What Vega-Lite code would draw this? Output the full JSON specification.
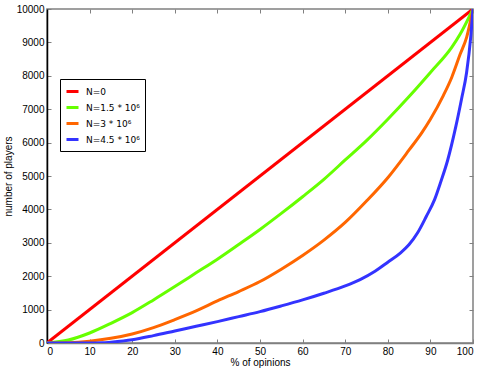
{
  "$schema": "https://vega.github.io/schema/vega-lite/v6.json",
  "width": 426,
  "height": 334,
  "autosize": {"type": "none"},
  "padding": {"left": 47, "top": 9, "right": 12, "bottom": 29},
  "background": "white",
  "config": {
    "font": "Liberation Sans",
    "view": {"stroke": "#808080", "strokeWidth": 1.5},
    "axis": {"grid": false, "labelFontSize": 10, "titleFontSize": 10, "titleFontWeight": "normal", "labelColor": "#000", "titleColor": "#000", "tickColor": "#808080", "tickSize": -4, "tickWidth": 1, "labelPadding": 7}
  },
  "data": {
    "values": [
      {"s": "N=0", "x": 0, "y": 0},
      {"s": "N=0", "x": 100, "y": 10000},
      {"s": "N=1.5 * 10⁶", "x": 0, "y": 0},
      {"s": "N=1.5 * 10⁶", "x": 5, "y": 90},
      {"s": "N=1.5 * 10⁶", "x": 10, "y": 300},
      {"s": "N=1.5 * 10⁶", "x": 15, "y": 590},
      {"s": "N=1.5 * 10⁶", "x": 20, "y": 910},
      {"s": "N=1.5 * 10⁶", "x": 25, "y": 1290},
      {"s": "N=1.5 * 10⁶", "x": 30, "y": 1690},
      {"s": "N=1.5 * 10⁶", "x": 35, "y": 2100},
      {"s": "N=1.5 * 10⁶", "x": 40, "y": 2510},
      {"s": "N=1.5 * 10⁶", "x": 45, "y": 2950},
      {"s": "N=1.5 * 10⁶", "x": 50, "y": 3400},
      {"s": "N=1.5 * 10⁶", "x": 55, "y": 3880},
      {"s": "N=1.5 * 10⁶", "x": 60, "y": 4380},
      {"s": "N=1.5 * 10⁶", "x": 65, "y": 4900},
      {"s": "N=1.5 * 10⁶", "x": 70, "y": 5480},
      {"s": "N=1.5 * 10⁶", "x": 75, "y": 6060},
      {"s": "N=1.5 * 10⁶", "x": 80, "y": 6700},
      {"s": "N=1.5 * 10⁶", "x": 85, "y": 7380},
      {"s": "N=1.5 * 10⁶", "x": 90, "y": 8100},
      {"s": "N=1.5 * 10⁶", "x": 95, "y": 8850},
      {"s": "N=1.5 * 10⁶", "x": 97, "y": 9250},
      {"s": "N=1.5 * 10⁶", "x": 100, "y": 10000},
      {"s": "N=3 * 10⁶", "x": 0, "y": 0},
      {"s": "N=3 * 10⁶", "x": 5, "y": 10},
      {"s": "N=3 * 10⁶", "x": 10, "y": 55},
      {"s": "N=3 * 10⁶", "x": 15, "y": 140},
      {"s": "N=3 * 10⁶", "x": 20, "y": 270},
      {"s": "N=3 * 10⁶", "x": 25, "y": 460},
      {"s": "N=3 * 10⁶", "x": 30, "y": 700},
      {"s": "N=3 * 10⁶", "x": 35, "y": 960},
      {"s": "N=3 * 10⁶", "x": 40, "y": 1260},
      {"s": "N=3 * 10⁶", "x": 45, "y": 1540},
      {"s": "N=3 * 10⁶", "x": 50, "y": 1840},
      {"s": "N=3 * 10⁶", "x": 55, "y": 2210},
      {"s": "N=3 * 10⁶", "x": 60, "y": 2620},
      {"s": "N=3 * 10⁶", "x": 65, "y": 3080},
      {"s": "N=3 * 10⁶", "x": 70, "y": 3610},
      {"s": "N=3 * 10⁶", "x": 75, "y": 4250},
      {"s": "N=3 * 10⁶", "x": 80, "y": 4950},
      {"s": "N=3 * 10⁶", "x": 85, "y": 5780},
      {"s": "N=3 * 10⁶", "x": 88, "y": 6300},
      {"s": "N=3 * 10⁶", "x": 90, "y": 6700},
      {"s": "N=3 * 10⁶", "x": 93, "y": 7400},
      {"s": "N=3 * 10⁶", "x": 95, "y": 7950},
      {"s": "N=3 * 10⁶", "x": 97, "y": 8650},
      {"s": "N=3 * 10⁶", "x": 98.5, "y": 9150},
      {"s": "N=3 * 10⁶", "x": 100, "y": 10000},
      {"s": "N=4.5 * 10⁶", "x": 0, "y": 0},
      {"s": "N=4.5 * 10⁶", "x": 5, "y": 0},
      {"s": "N=4.5 * 10⁶", "x": 10, "y": 0},
      {"s": "N=4.5 * 10⁶", "x": 13, "y": 5},
      {"s": "N=4.5 * 10⁶", "x": 15, "y": 25},
      {"s": "N=4.5 * 10⁶", "x": 20, "y": 95},
      {"s": "N=4.5 * 10⁶", "x": 25, "y": 220},
      {"s": "N=4.5 * 10⁶", "x": 30, "y": 360},
      {"s": "N=4.5 * 10⁶", "x": 35, "y": 500},
      {"s": "N=4.5 * 10⁶", "x": 40, "y": 640},
      {"s": "N=4.5 * 10⁶", "x": 45, "y": 790},
      {"s": "N=4.5 * 10⁶", "x": 50, "y": 940},
      {"s": "N=4.5 * 10⁶", "x": 55, "y": 1110},
      {"s": "N=4.5 * 10⁶", "x": 60, "y": 1290},
      {"s": "N=4.5 * 10⁶", "x": 65, "y": 1490},
      {"s": "N=4.5 * 10⁶", "x": 70, "y": 1710},
      {"s": "N=4.5 * 10⁶", "x": 73.5, "y": 1900},
      {"s": "N=4.5 * 10⁶", "x": 77, "y": 2150},
      {"s": "N=4.5 * 10⁶", "x": 80, "y": 2420},
      {"s": "N=4.5 * 10⁶", "x": 83, "y": 2700},
      {"s": "N=4.5 * 10⁶", "x": 85, "y": 2950},
      {"s": "N=4.5 * 10⁶", "x": 87, "y": 3300},
      {"s": "N=4.5 * 10⁶", "x": 89, "y": 3780},
      {"s": "N=4.5 * 10⁶", "x": 91, "y": 4300},
      {"s": "N=4.5 * 10⁶", "x": 92.5, "y": 4850},
      {"s": "N=4.5 * 10⁶", "x": 94, "y": 5450},
      {"s": "N=4.5 * 10⁶", "x": 96, "y": 6500},
      {"s": "N=4.5 * 10⁶", "x": 97.3, "y": 7300},
      {"s": "N=4.5 * 10⁶", "x": 98.5, "y": 8100},
      {"s": "N=4.5 * 10⁶", "x": 99.5, "y": 9200},
      {"s": "N=4.5 * 10⁶", "x": 100, "y": 10000}
    ]
  },
  "layer": [
    {
      "mark": {"type": "line", "strokeWidth": 3, "clip": true, "interpolate": "monotone"},
      "encoding": {
        "x": {"field": "x", "type": "quantitative", "scale": {"domain": [0, 100], "nice": false, "zero": false},
          "axis": {"title": "% of opinions", "values": [0,10,20,30,40,50,60,70,80,90,100], "format": "d", "domainColor": "#808080", "domainWidth": 1.5, "titlePadding": 1}},
        "y": {"field": "y", "type": "quantitative", "scale": {"domain": [0, 10000], "nice": false},
          "axis": {"title": "number of players", "values": [0,1000,2000,3000,4000,5000,6000,7000,8000,9000,10000], "format": "d", "domainColor": "#000", "domainWidth": 1.5, "titlePadding": 3}},
        "color": {"field": "s", "type": "nominal",
          "scale": {"domain": ["N=0", "N=1.5 * 10⁶", "N=3 * 10⁶", "N=4.5 * 10⁶"], "range": ["#ff0000", "#66ff00", "#ff6600", "#3333ff"]},
          "legend": {"title": null, "orient": "none", "legendX": 13, "legendY": 70, "strokeColor": "#000", "fillColor": "#fff", "padding": 5, "symbolType": "stroke", "symbolSize": 144, "symbolStrokeWidth": 3, "labelFont": "DejaVu Sans", "labelFontSize": 9, "rowPadding": 2, "labelOffset": 6}}
      }
    },
    {
      "mark": {"type": "line", "opacity": 0},
      "encoding": {
        "x": {"field": "x", "type": "quantitative", "scale": {"domain": [0, 100], "nice": false, "zero": false},
          "axis": {"orient": "top", "title": null, "labels": false, "values": [0,10,20,30,40,50,60,70,80,90,100], "domain": false}},
        "y": {"field": "y", "type": "quantitative", "scale": {"domain": [0, 10000], "nice": false},
          "axis": {"orient": "right", "title": null, "labels": false, "values": [0,1000,2000,3000,4000,5000,6000,7000,8000,9000,10000], "domain": false}},
        "detail": {"field": "s"}
      }
    }
  ],
  "resolve": {"scale": {"x": "independent", "y": "independent"}, "axis": {"x": "independent", "y": "independent"}}
}
